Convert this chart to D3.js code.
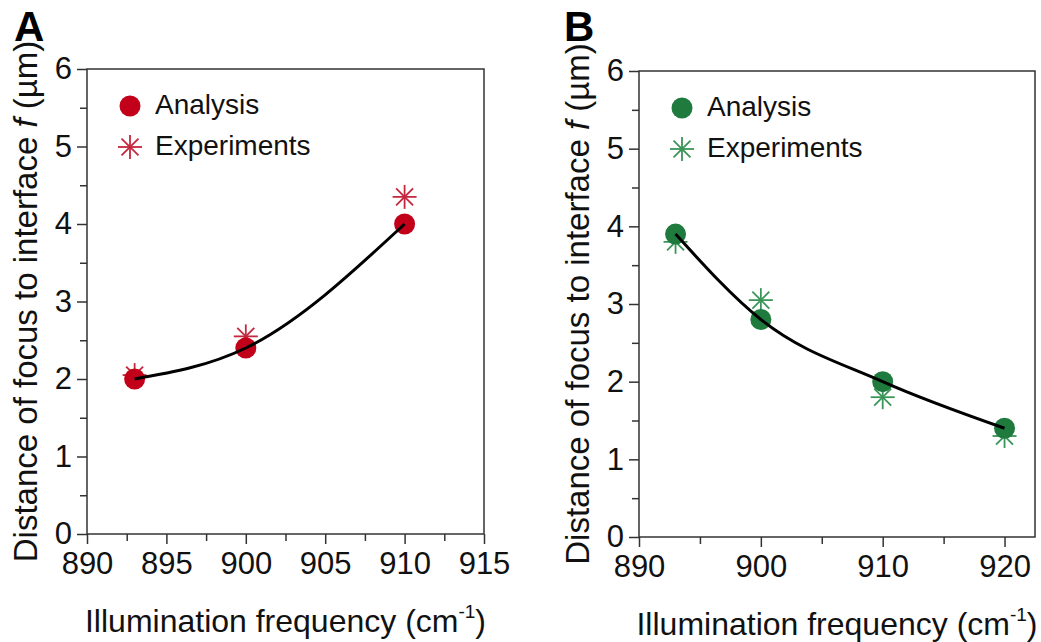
<!DOCTYPE html>
<html>
<head>
<meta charset="utf-8">
<script src="https://cdn.jsdelivr.net/npm/d3@7"></script>
<style>
  body { margin: 0; background: #fff; }
  svg { font-family: "Liberation Sans", Arial, sans-serif; }
</style>
</head>
<body>
<div id="chart"></div>
<script>
// Panel A data
var freqA = [893, 900, 910];
var analysisA = [2.0, 2.4, 4.0];
var experimentsA = [2.05, 2.55, 4.35];

// Panel B data
var freqB = [893, 900, 910, 920];
var analysisB = [3.9, 2.8, 2.0, 1.4];
var experimentsB = [3.8, 3.05, 1.8, 1.3];

// Tick values
var yTicks = [0, 1, 2, 3, 4, 5, 6];
var xTicksA = [890, 895, 900, 905, 910, 915];
var xTicksB = [890, 900, 910, 920];

var svgWidth = 1041;
var svgHeight = 642;

var svg = d3.select("#chart")
    .append("svg")
    .attr("width", svgWidth)
    .attr("height", svgHeight);

// draw one panel
function drawPanel(opt) {
    var g = svg.append("g");
    var w = opt.right - opt.left;
    var h = opt.bottom - opt.top;

    var x = d3.scaleLinear().domain(opt.xDomain).range([opt.left, opt.right]);
    var y = d3.scaleLinear().domain([0, 6]).range([opt.bottom, opt.top]);

    // minor ticks
    var minorY = d3.range(0.5, 6, 1);
    g.append("g")
        .attr("transform", `translate(${opt.left},0)`)
        .call(d3.axisLeft(y).tickValues(minorY).tickSize(7).tickFormat(""))
        .call(a => a.select(".domain").remove());
    g.append("g")
        .attr("transform", `translate(0,${opt.bottom})`)
        .call(d3.axisBottom(x).tickValues(opt.xMinor).tickSize(7).tickFormat(""))
        .call(a => a.select(".domain").remove());

    // major axes
    var leftAxis = g.append("g")
        .attr("transform", `translate(${opt.left},0)`)
        .call(d3.axisLeft(y).tickValues(yTicks).tickSize(10).tickSizeOuter(0).tickPadding(5).tickFormat(d3.format("d")));
    var bottomAxis = g.append("g")
        .attr("transform", `translate(0,${opt.bottom})`)
        .call(d3.axisBottom(x).tickValues(opt.xTicks).tickSize(10).tickSizeOuter(0).tickPadding(8).tickFormat(d3.format("d")));

    [leftAxis, bottomAxis].forEach(function(a) {
        a.selectAll("text")
            .attr("font-size", "31px")
            .attr("font-family", "Liberation Sans, Arial, sans-serif")
            .attr("fill", "#111");
    });
    g.selectAll(".tick line").attr("stroke", "#333").attr("stroke-width", 1.5);
    g.selectAll(".domain").remove();

    // frame
    g.append("rect")
        .attr("x", opt.left)
        .attr("y", opt.top)
        .attr("width", w)
        .attr("height", h)
        .attr("fill", "none")
        .attr("stroke", "#333")
        .attr("stroke-width", 1.5);

    // fitted curve through analysis points
    var pts = opt.freq.map((f, i) => [f, opt.analysis[i]]);
    var line = d3.line()
        .x(d => x(d[0]))
        .y(d => y(d[1]))
        .curve(d3.curveMonotoneX);

    // experiment stars
    var arm = 12;
    var stars = g.selectAll(".star")
        .data(opt.freq.map((f, i) => [f, opt.experiments[i]]))
        .enter()
        .append("g")
        .attr("transform", d => `translate(${x(d[0])},${y(d[1])})`);
    drawStar(stars, arm, opt.starColor);

    // analysis circles
    g.selectAll(".dot")
        .data(pts)
        .enter()
        .append("circle")
        .attr("cx", d => x(d[0]))
        .attr("cy", d => y(d[1]))
        .attr("r", 10.5)
        .attr("fill", opt.color);

    g.append("path")
        .datum(pts)
        .attr("d", line)
        .attr("fill", "none")
        .attr("stroke", "#000")
        .attr("stroke-width", 3);

    // legend
    var lx = opt.left + 43;
    g.append("circle")
        .attr("cx", lx)
        .attr("cy", opt.top + 37)
        .attr("r", 10.5)
        .attr("fill", opt.color);
    g.append("text")
        .attr("x", lx + 25)
        .attr("y", opt.top + 45)
        .attr("font-size", "28px")
        .attr("fill", "#111")
        .text("Analysis");
    var ls = g.append("g").attr("transform", `translate(${lx},${opt.top + 78})`);
    drawStar(ls, arm, opt.starColor);
    g.append("text")
        .attr("x", lx + 25)
        .attr("y", opt.top + 86)
        .attr("font-size", "28px")
        .attr("fill", "#111")
        .text("Experiments");

    // axis titles
    var xt = g.append("text")
        .attr("x", (opt.left + opt.right) / 2)
        .attr("y", opt.bottom + 98)
        .attr("text-anchor", "middle")
        .attr("font-size", "32px")
        .attr("fill", "#111");
    xt.append("tspan").text("Illumination frequency (cm");
    xt.append("tspan").attr("font-size", "19px").attr("dy", "-14").text("-1");
    xt.append("tspan").attr("dy", "14").text(")");

    var yt = g.append("text")
        .attr("transform", `translate(${opt.left - 50},${(opt.top + opt.bottom) / 2}) rotate(-90)`)
        .attr("text-anchor", "middle")
        .attr("font-size", "33px")
        .attr("fill", "#111");
    yt.append("tspan").text("Distance of focus to interface ");
    yt.append("tspan").attr("font-style", "italic").text("f");
    yt.append("tspan").text(" (µm)");

    // panel letter
    g.append("text")
        .attr("x", opt.letterX)
        .attr("y", 41)
        .attr("font-size", "42px")
        .attr("font-weight", "bold")
        .attr("fill", "#000")
        .text(opt.letter);
}

function drawStar(sel, r, color) {
    [0, 45, 90, 135].forEach(function(a) {
        var rad = a * Math.PI / 180;
        sel.append("line")
            .attr("x1", -r * Math.cos(rad))
            .attr("y1", -r * Math.sin(rad))
            .attr("x2", r * Math.cos(rad))
            .attr("y2", r * Math.sin(rad))
            .attr("stroke", color)
            .attr("stroke-width", 1.8);
    });
}

drawPanel({
    left: 87, right: 484, top: 69, bottom: 534,
    xDomain: [890, 915],
    xTicks: xTicksA,
    xMinor: d3.range(892.5, 915, 5),
    freq: freqA, analysis: analysisA, experiments: experimentsA,
    color: "#c20019", starColor: "#c4283e",
    letter: "A", letterX: 14
});

drawPanel({
    left: 639, right: 1035, top: 71, bottom: 537,
    xDomain: [890, 922.5],
    xTicks: xTicksB,
    xMinor: [895, 905, 915],
    freq: freqB, analysis: analysisB, experiments: experimentsB,
    color: "#1f7a3e", starColor: "#3a9558",
    letter: "B", letterX: 564
});
</script>
</body>
</html>
